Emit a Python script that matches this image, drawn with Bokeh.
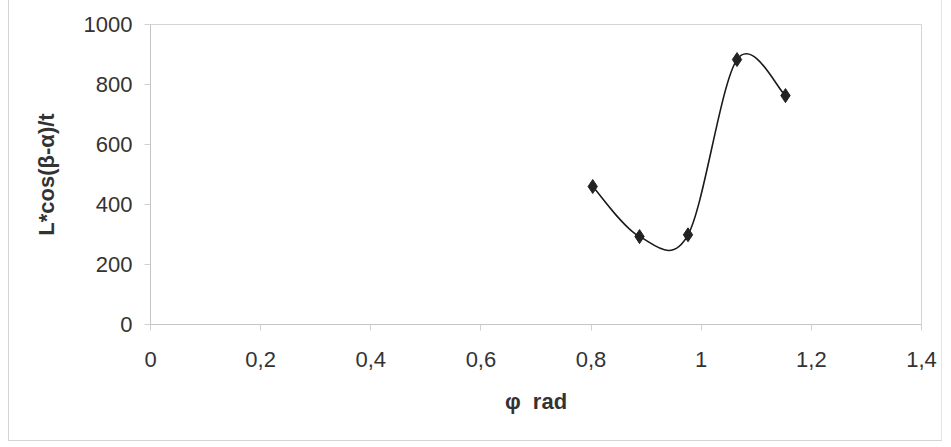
from bokeh.plotting import figure
from bokeh.models import Range1d, FixedTicker
from bokeh.embed import file_html
from bokeh.resources import INLINE

# data (phi in rad, L*cos(beta-alpha)/t)
phi = [0.803, 0.888, 0.976, 1.065, 1.153]
val = [460, 293, 299, 883, 763]

x_ticks = [0, 0.2, 0.4, 0.6, 0.8, 1, 1.2, 1.4]
x_tick_labels = ["0", "0,2", "0,4", "0,6", "0,8", "1", "1,2", "1,4"]
y_ticks = [0, 200, 400, 600, 800, 1000]
y_tick_labels = ["0", "200", "400", "600", "800", "1000"]

FONT = "Liberation Sans"

p = figure(width=934, height=441, output_backend="svg", toolbar_location=None,
           x_range=Range1d(0, 1.4), y_range=Range1d(0, 1000),
           min_border_left=141, min_border_right=22, min_border_top=24,
           min_border_bottom=117)
p.styles = {"margin-left": "8px", "border-left": "1px solid #d4d4d4",
            "border-right": "1px solid #e4e4e4", "border-bottom": "1px solid #d4d4d4"}

p.background_fill_color = "white"
p.border_fill_color = "white"
p.outline_line_color = "#d4d4d4"
p.outline_line_width = 1
p.xgrid.grid_line_color = None
p.ygrid.grid_line_color = None

# smoothed line (Bezier segments, Catmull-Rom style control points)
n = len(phi)
x0s, y0s, x1s, y1s, cx0s, cy0s, cx1s, cy1s = [], [], [], [], [], [], [], []
for i in range(n - 1):
    pxm = phi[i - 1] if i > 0 else phi[i]
    pym = val[i - 1] if i > 0 else val[i]
    pxp = phi[i + 2] if i + 2 < n else phi[i + 1]
    pyp = val[i + 2] if i + 2 < n else val[i + 1]
    x0s.append(phi[i]); y0s.append(val[i])
    x1s.append(phi[i + 1]); y1s.append(val[i + 1])
    cx0s.append(phi[i] + (phi[i + 1] - pxm) / 6)
    cy0s.append(val[i] + (val[i + 1] - pym) / 6)
    cx1s.append(phi[i + 1] - (pxp - phi[i]) / 6)
    cy1s.append(val[i + 1] - (pyp - val[i]) / 6)

p.bezier(x0=x0s, y0=y0s, x1=x1s, y1=y1s, cx0=cx0s, cy0=cy0s, cx1=cx1s, cy1=cy1s,
         line_color="#1a1a1a", line_width=1.6)
p.scatter(phi, val, marker="diamond", size=14, fill_color="#222222",
          line_color="#222222")

# axes
for ax in (p.xaxis[0], p.yaxis[0]):
    ax.axis_line_color = "#c4c4c4"
    ax.major_tick_line_color = "#d0d0d0"
    ax.minor_tick_line_color = None
    ax.major_tick_in = 0
    ax.major_tick_out = 6
    ax.major_label_text_font = FONT
    ax.major_label_text_font_size = "22px"
    ax.major_label_text_color = "#333333"
    ax.axis_label_text_font = FONT
    ax.axis_label_text_font_style = "bold"
    ax.axis_label_text_font_size = "22px"
    ax.axis_label_text_color = "#333333"

p.xaxis.ticker = FixedTicker(ticks=x_ticks)
p.xaxis.major_label_overrides = {t: l for t, l in zip(x_ticks, x_tick_labels)}
p.yaxis.ticker = FixedTicker(ticks=y_ticks)
p.yaxis.major_label_overrides = {t: l for t, l in zip(y_ticks, y_tick_labels)}
p.xaxis.major_label_standoff = 21
p.yaxis.major_label_standoff = 12
p.xaxis.axis_label = "φ\u00a0\u00a0rad"
p.yaxis.axis_label = "L*cos(β-α)/t"
p.xaxis.axis_label_standoff = 19
p.yaxis.axis_label_standoff = 22

open("out.html", "w").write(file_html(p, INLINE))
